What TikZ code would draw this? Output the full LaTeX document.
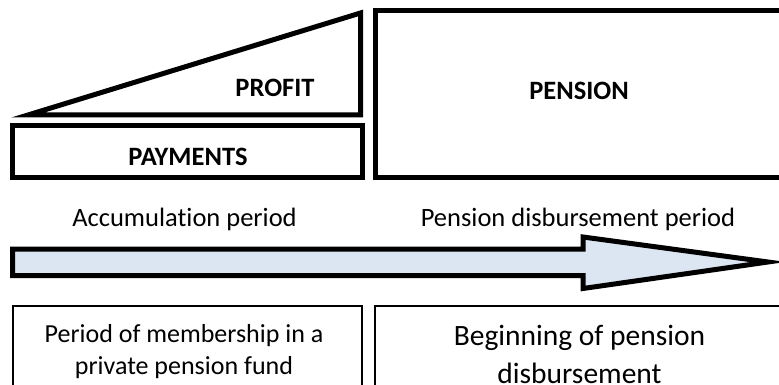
\documentclass[tikz,border=0pt]{standalone}
\usepackage{fontspec}
\setmainfont{Carlito}[Ligatures=NoCommon]
\usepackage{tikz}
\definecolor{arrowfill}{RGB}{220,230,242}
\tikzset{
  heavy/.style={line width=5pt, line join=miter},
  thinbox/.style={line width=1.3pt},
  caption/.style={font=\bfseries\fontsize{26.5}{32}\selectfont, anchor=base},
  period/.style={font=\fontsize{26.5}{32}\selectfont, anchor=base},
  note/.style={font=\fontsize{26}{32}\selectfont, anchor=base, align=center},
  bignote/.style={font=\fontsize{29.5}{38}\selectfont, anchor=base, align=center},
}

\begin{document}
\begin{tikzpicture}[x=1pt, y=-1pt]
    \useasboundingbox (0, 0) rectangle (779, 385);
    % top blocks
    \draw[heavy] (28, 115) -- (360.5, 115) -- (360.5, 13) -- cycle;
    \draw[heavy] (12.5, 125.5) rectangle (362.5, 177.5);
    \draw[heavy] (375.5, 10.5) rectangle (800, 177.5);
    \node[caption] (profit) at (275, 96.7) {PROFIT};
    \node[caption] (payments) at (188, 165) {PAYMENTS};
    \node[caption] (pension) at (579, 100) {PENSION};
    % time line
    \node[period] (accum) at (184.5, 226.7) {Accumulation period};
    \node[period] (disb) at (578, 226.7) {Pension disbursement period};
    \draw[heavy, fill=arrowfill] (12.5, 249) -- (583, 249) -- (583, 237) -- (768, 262)
      -- (583, 288.5) -- (583, 275.5) -- (12.5, 275.5) -- cycle;
    % bottom boxes (last line sits on the anchor)
    \draw[thinbox] (13, 400) -- (13, 306) -- (362, 306) -- (362, 400);
    \draw[thinbox] (375, 400) -- (375, 306) -- (800, 306);
    \node[note] (member) at (184, 374) {Period of membership in a\\private pension fund};
    \node[bignote] (begin) at (579.5, 383) {Beginning of pension\\disbursement};
\end{tikzpicture}
\end{document}
